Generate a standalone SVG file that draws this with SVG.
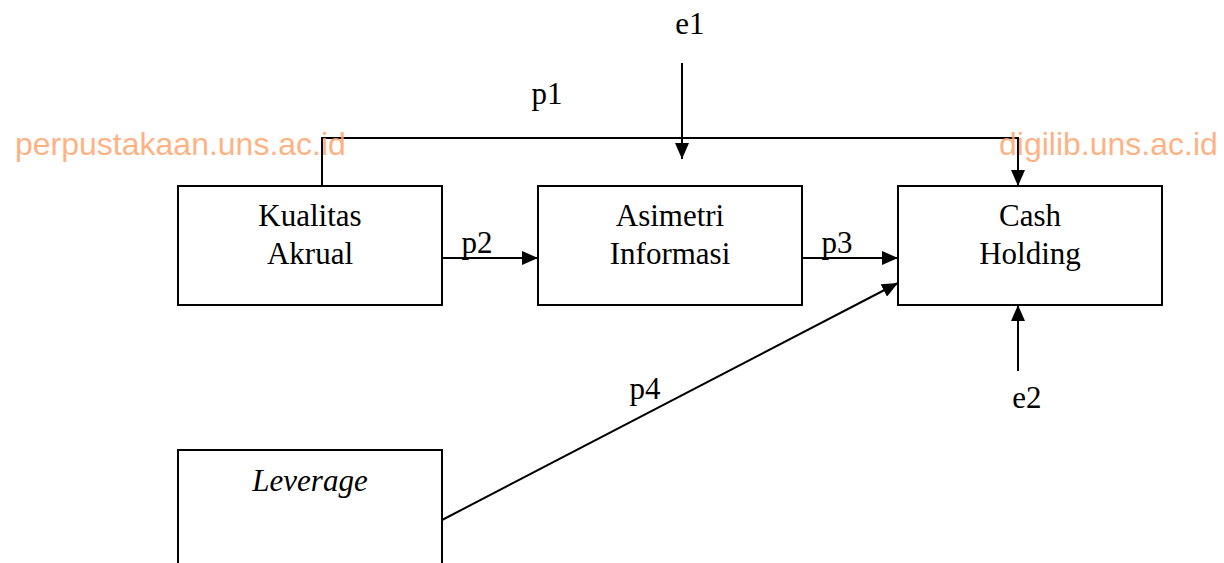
<svg xmlns="http://www.w3.org/2000/svg" width="1224" height="563" viewBox="0 0 1224 563">
  <style>
    .box { fill: #fff; stroke: #000; stroke-width: 2; }
    .lbl { font-family: "Liberation Serif", "Times New Roman", serif; font-size: 31px; fill: #000; }
    .wm { font-family: "Liberation Sans", Arial, sans-serif; font-size: 32px; fill: #ffa36b; fill-opacity: 0.85; }
    .conn { fill: none; stroke: #000; stroke-width: 2; }
  </style>
  <defs>
    <marker id="arrow" viewBox="0 0 16 14" refX="16" refY="7" markerWidth="16" markerHeight="14" markerUnits="userSpaceOnUse" orient="auto">
      <path d="M0,0 L16,7 L0,14 Z" fill="#000"/>
    </marker>
  </defs>
  <rect width="1224" height="563" fill="#fff"/>

  <g id="node-kualitas">
    <rect class="box" x="178" y="186" width="264" height="119"/>
    <text class="lbl" x="310" y="226" text-anchor="middle">Kualitas</text>
    <text class="lbl" x="310" y="264" text-anchor="middle">Akrual</text>
  </g>
  <g id="node-asimetri">
    <rect class="box" x="538" y="186" width="264" height="119"/>
    <text class="lbl" x="670" y="226" text-anchor="middle">Asimetri</text>
    <text class="lbl" x="670" y="264" text-anchor="middle">Informasi</text>
  </g>
  <g id="node-cash">
    <rect class="box" x="898" y="186" width="264" height="119"/>
    <text class="lbl" x="1030" y="226" text-anchor="middle">Cash</text>
    <text class="lbl" x="1030" y="264" text-anchor="middle">Holding</text>
  </g>
  <g id="node-leverage">
    <rect class="box" x="178" y="450" width="264" height="130"/>
    <text class="lbl" x="310" y="491" text-anchor="middle" font-style="italic">Leverage</text>
  </g>

  <g id="connectors">
    <polyline class="conn" points="322,186 322,138 1018,138 1018,186" marker-end="url(#arrow)"/>
    <line class="conn" x1="682" y1="63" x2="682" y2="159" marker-end="url(#arrow)"/>
    <line class="conn" x1="442" y1="258" x2="538" y2="258" marker-end="url(#arrow)"/>
    <line class="conn" x1="802" y1="258" x2="898" y2="258" marker-end="url(#arrow)"/>
    <line class="conn" x1="442" y1="520" x2="898" y2="283" marker-end="url(#arrow)"/>
    <line class="conn" x1="1018" y1="371" x2="1018" y2="305" marker-end="url(#arrow)"/>
  </g>

  <g id="watermark">
    <text class="wm" x="15" y="155">perpustakaan.uns.ac.id</text>
    <text class="wm" x="999" y="155">digilib.uns.ac.id</text>
  </g>

  <g id="labels">
    <text class="lbl" x="690" y="34" text-anchor="middle">e1</text>
    <text class="lbl" x="547" y="104" text-anchor="middle">p1</text>
    <text class="lbl" x="477" y="253" text-anchor="middle">p2</text>
    <text class="lbl" x="837" y="253" text-anchor="middle">p3</text>
    <text class="lbl" x="645" y="399" text-anchor="middle">p4</text>
    <text class="lbl" x="1027" y="408" text-anchor="middle">e2</text>
  </g>
</svg>
